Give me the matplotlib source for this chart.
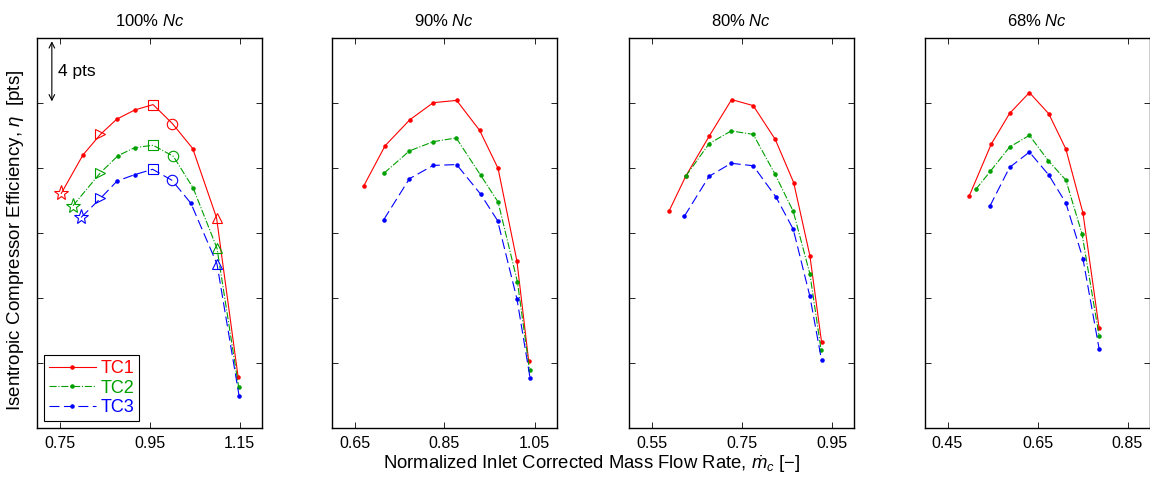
import matplotlib.pyplot as plt
import numpy as np

plt.rcParams['font.family'] = ['Liberation Sans', 'DejaVu Sans']
plt.rcParams['mathtext.fontset'] = 'custom'
plt.rcParams['mathtext.rm'] = 'Liberation Sans'
plt.rcParams['mathtext.it'] = 'Liberation Sans:italic'

titles = ['100%', '90%', '80%', '68%']
xlims = [(0.70, 1.20), (0.60, 1.10), (0.50, 1.00), (0.40, 0.90)]
xticks = [[0.75, 0.95, 1.15], [0.65, 0.85, 1.05], [0.55, 0.75, 0.95], [0.45, 0.65, 0.85]]

# 100% Nc
x100_tc1 = [0.754, 0.802, 0.841, 0.877, 0.917, 0.958, 1.001, 1.046, 1.099, 1.147]
y100_tc1 = [14.44, 16.8, 18.07, 19.0, 19.57, 19.9, 18.73, 17.2, 12.94, 3.12]
x100_tc2 = [0.780, 0.841, 0.880, 0.917, 0.958, 1.003, 1.047, 1.100, 1.148]
y100_tc2 = [13.68, 15.71, 16.76, 17.25, 17.4, 16.72, 14.77, 11.06, 2.54]
x100_tc3 = [0.798, 0.841, 0.878, 0.917, 0.957, 1.000, 1.042, 1.100, 1.149]
y100_tc3 = [12.96, 14.13, 15.2, 15.59, 15.92, 15.24, 13.83, 10.09, 1.99]

# 90% Nc
x90_tc1 = [0.670, 0.718, 0.773, 0.825, 0.877, 0.928, 0.969, 1.011, 1.037]
y90_tc1 = [14.87, 17.37, 18.97, 20.02, 20.16, 18.32, 15.98, 10.26, 4.14]
x90_tc2 = [0.716, 0.772, 0.825, 0.876, 0.930, 0.969, 1.012, 1.039]
y90_tc2 = [15.69, 17.05, 17.62, 17.85, 15.57, 13.91, 9.0, 3.55]
x90_tc3 = [0.715, 0.772, 0.825, 0.877, 0.930, 0.968, 1.011, 1.040]
y90_tc3 = [12.82, 15.34, 16.16, 16.21, 14.4, 12.76, 7.94, 3.10]

# 80% Nc
x80_tc1 = [0.589, 0.626, 0.678, 0.728, 0.776, 0.825, 0.866, 0.902, 0.928]
y80_tc1 = [13.35, 15.49, 17.95, 20.21, 19.84, 17.76, 15.1, 10.6, 5.27]
x80_tc2 = [0.626, 0.678, 0.727, 0.776, 0.824, 0.865, 0.902, 0.927]
y80_tc2 = [15.49, 17.5, 18.28, 18.07, 15.65, 13.33, 9.48, 4.78]
x80_tc3 = [0.623, 0.678, 0.727, 0.776, 0.827, 0.865, 0.902, 0.928]
y80_tc3 = [13.03, 15.49, 16.29, 16.14, 14.2, 12.23, 8.1, 4.16]

# 68% Nc
x68_tc1 = [0.498, 0.547, 0.588, 0.632, 0.675, 0.713, 0.751, 0.787]
y68_tc1 = [14.26, 17.46, 19.36, 20.64, 19.34, 17.17, 13.23, 6.13]
x68_tc2 = [0.513, 0.545, 0.588, 0.632, 0.674, 0.713, 0.749, 0.787]
y68_tc2 = [14.69, 15.79, 17.29, 18.01, 16.45, 15.26, 11.94, 5.66]
x68_tc3 = [0.544, 0.588, 0.632, 0.675, 0.713, 0.751, 0.787]
y68_tc3 = [13.64, 16.04, 16.98, 15.57, 13.85, 10.42, 4.86]

data = [
    [(x100_tc1, y100_tc1), (x100_tc2, y100_tc2), (x100_tc3, y100_tc3)],
    [(x90_tc1, y90_tc1), (x90_tc2, y90_tc2), (x90_tc3, y90_tc3)],
    [(x80_tc1, y80_tc1), (x80_tc2, y80_tc2), (x80_tc3, y80_tc3)],
    [(x68_tc1, y68_tc1), (x68_tc2, y68_tc2), (x68_tc3, y68_tc3)],
]

# open markers on the 100% line: index in each series -> marker
special = [
    {0: '*', 2: '>', 5: 's', 6: 'o', 8: '^'},
    {0: '*', 1: '>', 4: 's', 5: 'o', 7: '^'},
    {0: '*', 1: '>', 4: 's', 5: 'o', 7: '^'},
]

names = ['TC1', 'TC2', 'TC3']
colors = ['#ff0000', '#00a000', '#0000ff']
styles = ['-', '-.', (0, (9, 4))]

fig = plt.figure(figsize=(11.5, 4.78), dpi=100)
lefts = [37, 332, 629, 925]
for i in range(4):
    ax = fig.add_axes([lefts[i] / 1150, 1 - 428 / 478, 225 / 1150, 390 / 478])
    handles = []
    for j in range(3):
        xs, ys = data[i][j]
        every = list(range(len(xs)))
        if i == 0:
            every = [k for k in every if k not in special[j]]
        ax.plot(xs, ys, color=colors[j], linestyle=styles[j], linewidth=0.8,
                marker='.', markersize=4.5, markevery=every)
        h, = ax.plot([], [], color=colors[j], linestyle=styles[j], linewidth=0.8,
                     marker='.', markersize=4.5)
        handles.append(h)
        if i == 0:
            for k, m in special[j].items():
                ax.plot(xs[k], ys[k], marker=m, markersize=11 if m == '*' else 7.5,
                        markerfacecolor='none', markeredgecolor=colors[j],
                        markeredgewidth=0.8, linestyle='none')
    ax.set_xlim(*xlims[i])
    ax.set_ylim(0, 24)
    ax.set_xticks(xticks[i])
    ax.set_xticklabels(['%.2f' % v for v in xticks[i]], fontsize=11.5)
    ax.set_yticks([4, 8, 12, 16, 20])
    ax.set_yticklabels([])
    ax.tick_params(direction='in', top=True, right=True, length=4, width=0.6, pad=6)
    for s in ax.spines.values():
        s.set_linewidth(1.0)
    ax.set_title(titles[i] + r' $\it{Nc}$', fontsize=12, pad=9)
    if i == 0:
        leg = ax.legend(handles, names, loc='lower left', fontsize=13, fancybox=False,
                        edgecolor='black', framealpha=1, handlelength=2.6,
                        borderaxespad=0.4, labelspacing=0.15, handletextpad=0.3,
                        borderpad=0.25)
        leg.get_frame().set_linewidth(0.8)
        for t, c in zip(leg.get_texts(), colors):
            t.set_color(c)
        ax.annotate('', xy=(0.733, 23.8), xytext=(0.733, 20.1),
                    arrowprops=dict(arrowstyle='<->', color='black', lw=0.8,
                                    shrinkA=0, shrinkB=0))
        ax.text(0.747, 21.95, '4 pts', fontsize=12.5, va='center', ha='left')
        ax.set_ylabel(r'Isentropic Compressor Efficiency, $\eta$  [pts]', fontsize=13.5)
        ax.yaxis.set_label_coords(-0.05, 0.48)

fig.text(0.515, 0.028, r'Normalized Inlet Corrected Mass Flow Rate, $\dot{m}_c$ [$-$]',
         ha='center', va='center', fontsize=13.3)

fig.savefig('out.png', dpi=100)
